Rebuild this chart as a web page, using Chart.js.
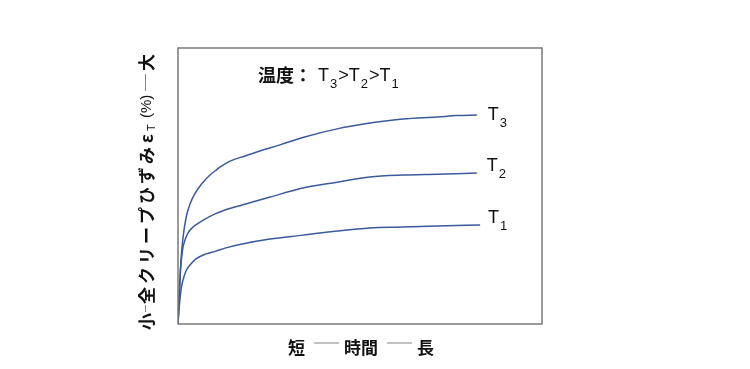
<!DOCTYPE html>
<html><head><meta charset="utf-8">
<script src="https://cdn.jsdelivr.net/npm/chart.js@4"></script>
<style>html,body{margin:0;padding:0;background:#fff}#wrap{width:750px;height:369px}</style>
</head><body><div id="wrap"><canvas id="c" width="750" height="369"></canvas></div>
<script>
// Data (arbitrary units: time 0-100, strain 0-100)
const seriesNames = ['T3', 'T2', 'T1'];
const t3X = [0, 0.41, 0.82, 1.37, 2.20, 3.30, 4.67, 6.59, 8.79, 10.4, 11.5, 14.3, 18.4, 22.5, 28.0, 34.3, 43.7, 52.7, 61.8, 71.2, 76.6, 82.1];
const t3Y = [0, 12.3, 23.2, 31.2, 38.4, 43.5, 47.3, 50.9, 54.0, 55.7, 56.8, 59.0, 60.9, 62.7, 64.9, 67.6, 70.7, 72.8, 74.3, 75.0, 75.5, 75.7];
const t2X = [0, 0.36, 0.69, 1.24, 1.92, 2.75, 3.85, 5.22, 7.42, 10.2, 12.9, 17.6, 25.3, 34.3, 43.7, 52.7, 61.8, 71.2, 82.1];
const t2Y = [0, 10.5, 19.6, 26.8, 30.4, 33.0, 34.8, 36.2, 38.0, 39.9, 41.3, 43.1, 46.0, 49.3, 51.4, 53.3, 54.0, 54.3, 54.7];
const t1X = [0, 0.27, 0.82, 1.37, 2.20, 3.30, 4.95, 7.69, 10.4, 12.9, 17.6, 25.3, 34.3, 43.7, 52.7, 61.8, 71.2, 83.0];
const t1Y = [0, 5.1, 12.3, 15.9, 19.2, 21.4, 23.6, 25.4, 26.4, 27.5, 29.0, 30.8, 32.2, 33.7, 34.8, 35.1, 35.5, 35.9];
const subs = ['3', '2', '1'];
const annotationParts = [['温度：', 'cjk'], ['T', 'lat'], ['3', 'sub'], ['>', 'lat'], ['T', 'lat'], ['2', 'sub'], ['>', 'lat'], ['T', 'lat'], ['1', 'sub']];
const yTitleParts = ['小', '—', '全クリープひずみ', 'ε', 'T', '(%)', '—', '大'];
const xTitleParts = ['短', '—', '時間', '—', '長'];

const CJK = '"Noto Sans CJK JP", sans-serif';
const LAT = '"Liberation Sans", Arial, sans-serif';
const LINE = '#3a5a9c';
const toPts = (xs, ys) => xs.map((x, i) => ({x: x, y: ys[i]}));

function drawRich(ctx, parts, x, y) {
  let cx = x;
  for (const [t, kind] of parts) {
    if (kind === 'cjk') ctx.font = 'bold 18px ' + CJK;
    else if (kind === 'lat') ctx.font = '18px ' + LAT;
    else ctx.font = '13px ' + LAT;
    if (kind === 'sub') cx += 1;
    ctx.fillText(t, cx, y + (kind === 'sub' ? 8.5 : 0));
    cx += ctx.measureText(t).width + (kind === 'sub' ? 1 : 0) + (kind === 'cjk' ? 6 : 0);
  }
}

const decor = {
  id: 'decor',
  afterDraw(chart) {
    const ctx = chart.ctx, a = chart.chartArea;
    const xs = chart.scales.x, ys = chart.scales.y;
    ctx.save();
    // frame
    ctx.strokeStyle = '#7a7a7a';
    ctx.lineWidth = 1.5;
    ctx.strokeRect(a.left, a.top, a.right - a.left, a.bottom - a.top);
    ctx.fillStyle = '#111';
    ctx.textBaseline = 'middle';
    ctx.textAlign = 'left';
    // series labels
    const dys = [-0.5, -7, -6.5];
    const dxs = [11, 10, 8];
    chart.data.datasets.forEach((ds, i) => {
      const meta = chart.getDatasetMeta(i);
      const p = meta.data[meta.data.length - 1];
      drawRich(ctx, [['T', 'lat'], [subs[i], 'sub']], p.x + dxs[i], p.y + dys[i]);
    });
    // annotation
    drawRich(ctx, annotationParts, xs.getPixelForValue(22.0), ys.getPixelForValue(90.0));
    const drawLine = (x0, len, y0) => {
      ctx.save(); ctx.strokeStyle = '#666'; ctx.lineWidth = 0.8;
      ctx.beginPath(); ctx.moveTo(x0, y0); ctx.lineTo(x0 + len, y0); ctx.stroke();
      ctx.restore();
    };
    // x title
    ctx.font = 'bold 17px ' + CJK;
    const xy = a.bottom + 24;
    let cx = xs.getPixelForValue(30.2);
    for (const t of xTitleParts) {
      if (t === '—') { drawLine(cx + 4, 25, xy - 5); cx += 34; continue; }
      ctx.fillText(t, cx, xy);
      cx += ctx.measureText(t).width + 5;
    }
    // y title (rotated)
    ctx.translate(a.left - 31, a.bottom + 6);
    ctx.rotate(-Math.PI / 2);
    ctx.font = 'bold 17px ' + CJK;
    ctx.fillText(yTitleParts[0], 0, 0);
    drawLine(18, 7, -1.5);
    const run = yTitleParts[2];
    for (let i = 0; i < run.length; i++) ctx.fillText(run[i], 26 + i * 20, 0);
    ctx.fillText(yTitleParts[3], 187, 0);
    ctx.font = '11px ' + LAT;
    ctx.fillText(yTitleParts[4], 199, 5);
    ctx.font = '15px ' + LAT;
    ctx.fillText(yTitleParts[5], 212, 0);
    drawLine(239, 17, -1.5);
    ctx.font = 'bold 17px ' + CJK;
    ctx.fillText(yTitleParts[7], 259, 0);
    ctx.restore();
  }
};

const mk = (pts) => ({
  data: pts, borderColor: LINE, borderWidth: 1.5, pointRadius: 0,
  fill: false, cubicInterpolationMode: 'monotone', showLine: true
});

new Chart(document.getElementById('c'), {
  type: 'scatter',
  data: { datasets: [mk(toPts(t3X, t3Y)), mk(toPts(t2X, t2Y)), mk(toPts(t1X, t1Y))] },
  options: {
    responsive: false, animation: false, devicePixelRatio: 1,
    layout: { padding: { left: 178, right: 208, top: 48, bottom: 45 } },
    plugins: { legend: { display: false }, tooltip: { enabled: false } },
    scales: {
      x: { type: 'linear', min: 0, max: 100, display: false },
      y: { type: 'linear', min: 0, max: 100, display: false }
    }
  },
  plugins: [decor]
});
</script></body></html>
